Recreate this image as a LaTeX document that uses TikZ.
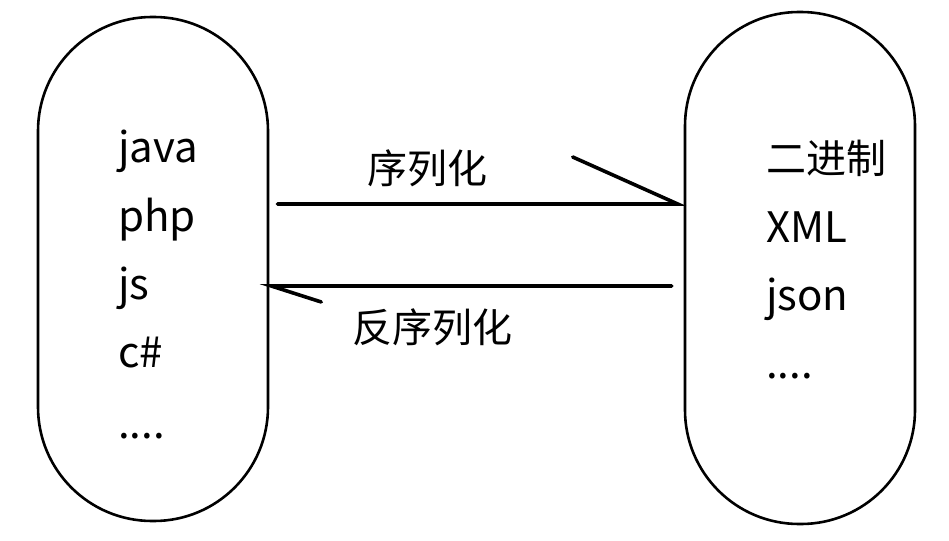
\documentclass[tikz,border=0pt]{standalone}
\usepackage{fontspec}
\setmainfont{Noto Sans CJK SC}
\usetikzlibrary{positioning}

\tikzset{
  pod/.style={draw, line width=2.6pt, rectangle, rounded corners=114pt,
              minimum width=230pt, minimum height=504pt, inner sep=0pt},
  item/.style={anchor=base west, inner sep=0pt, font=\fontsize{42}{50}\selectfont},
  tag/.style={inner sep=0pt, font=\fontsize{40}{48}\selectfont},
  wire/.style={line width=3.6pt, line cap=round}
}

\begin{document}
\begin{tikzpicture}[x=1pt,y=-1pt]
  \useasboundingbox (0,0) rectangle (949,540);

  % the two sides
  \node[pod] (lang) at (153,269) {};
  \node[pod, minimum height=512pt] (fmt) at (800,268) {};

  % left column
  \node[item] (java) at (118,163) {java};
  \node[item] (php)  at (118,231) {php};
  \node[item] (js)   at (118,299) {js};
  \node[item] (cs)   at (118,367) {c\#};
  \node[item] (ldot) at (118,438) {....};

  % right column
  \node[item, font=\fontsize{40}{48}\selectfont] (bin) at (766,173) {二进制};
  \node[item] (xml)  at (766,242) {XML};
  \node[item] (json) at (766,310) {json};
  \node[item] (rdot) at (766,378) {....};

  % arrows
  \coordinate (s1) at ([xshift=8pt,yshift=65pt]lang.east);
  \coordinate (s2) at ([xshift=-6pt,yshift=64pt]fmt.west);
  \coordinate (d1) at ([xshift=-12pt,yshift=-18pt]fmt.west);
  \coordinate (d2) at ([xshift=2pt,yshift=-17pt]lang.east);
  \draw[wire] (s1) -- (s2) -- ++(-105,-47);
  \draw[wire] (d1) -- (d2) -- ++(50,16);

  \node[tag] (ser)   at (427,168) {序列化};
  \node[tag] (deser) at (432,327) {反序列化};
\end{tikzpicture}
\end{document}
